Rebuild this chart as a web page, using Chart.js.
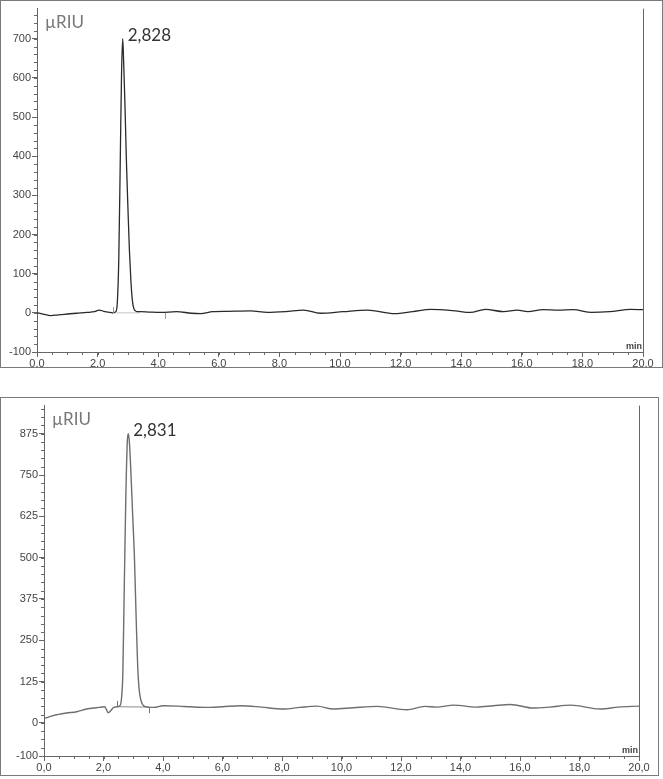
<!DOCTYPE html>
<html>
<head>
<meta charset="utf-8">
<script src="https://cdn.jsdelivr.net/npm/chart.js@4/dist/chart.umd.min.js"></script>
<style>
  body { margin: 0; background: #fff; }
  .frame { position: absolute; left: 0; border: 1px solid #7a7a7a; background: #fff; }
  #topFrame { top: 0; width: 661px; height: 366px; }
  #bottomFrame { top: 397px; width: 657px; height: 377px; }
</style>
</head>
<body>
<div class="frame" id="topFrame"><canvas id="chartTop"></canvas></div>
<div class="frame" id="bottomFrame"><canvas id="chartBottom"></canvas></div>
<script>
const topTime = [0, 0.2, 0.45, 0.7, 1.0, 1.3, 1.65, 1.9, 2.05, 2.2, 2.35, 2.5, 2.6, 2.65, 2.7, 2.75, 2.79, 2.828,
  2.86, 2.9, 2.95, 3.0, 3.05, 3.1, 3.15, 3.2, 3.25, 3.3, 3.42, 3.7, 4.1, 4.6, 5.1, 5.4, 5.8, 6.3, 7.05, 7.6, 8.2,
  8.8, 9.35, 10.1, 10.9, 11.8, 12.4, 13.0, 13.3, 13.8, 14.3, 14.8, 15.4, 15.85, 16.2, 16.7, 17.2, 17.7, 18.3,
  18.9, 19.6, 20.0];
const topSignal = [0, -3, -7, -5, -3, -1, 1, 3, 7, 4, 2, 0, 3, 25, 140, 400, 610, 700,
  640, 540, 390, 270, 160, 80, 30, 10, 5, 3, 3, 2, 1, 3, -1, -2, 3, 4, 5, 1, 3,
  7, -1, 3, 7, -2, 3, 9, 8, 5, 1, 9, 3, 7, 3, 8, 7, 8, 1,
  3, 9, 8];

const bottomTime = [0, 0.3, 0.75, 1.1, 1.43, 1.76, 2.04, 2.1, 2.16, 2.25, 2.33, 2.45, 2.55, 2.6, 2.65, 2.7, 2.75,
  2.8, 2.831, 2.87, 2.92, 2.98, 3.04, 3.1, 3.15, 3.2, 3.27, 3.35, 3.5, 3.7, 4.0, 4.5, 4.9, 5.5, 6.0, 6.6, 7.3,
  8.04, 8.6, 9.17, 9.73, 10.4, 11.2, 12.2, 12.8, 13.2, 13.77, 14.55, 15.1, 15.67, 16.45, 17.0, 17.7, 18.7,
  19.3, 20.0];
const bottomSignal = [13, 22, 30, 34, 42, 46, 49, 40, 31, 38, 46, 49, 52, 70, 150, 420, 680,
  850, 875, 850, 760, 630, 500, 310, 170, 100, 65, 52, 48, 47, 52, 51, 49, 47, 49, 52, 48,
  42, 47, 51, 42, 46, 50, 40, 50, 48, 54, 48, 52, 56, 45, 48, 54, 42,
  48, 51];

// linea base de integracion y marcas de inicio / fin del pico
const topBaseTime = [2.5, 3.4];
const topBaseSignal = [0, 0];
const topMarks = [[2.52, 0, 1], [4.22, 0, -1]];
const bottomBaseTime = [2.44, 3.52];
const bottomBaseSignal = [49, 48];
const bottomMarks = [[2.44, 49, 1], [3.52, 48, -1]];

// ejes
const xTicks = [0, 2, 4, 6, 8, 10, 12, 14, 16, 18, 20];
const yTicksTop = [-100, 0, 100, 200, 300, 400, 500, 600, 700];
const yTicksBottom = [-100, 0, 125, 250, 375, 500, 625, 750, 875];

const toPoints = (xs, ys) => xs.map((x, i) => ({ x: x, y: ys[i] }));

// plugin: marcas menores, borde derecho, marcas de integracion y textos
const extras = {
  id: 'extras',
  afterDraw(chart, args, opts) {
    const { ctx, chartArea } = chart;
    const sx = chart.scales.x, sy = chart.scales.y;
    ctx.save();
    ctx.strokeStyle = '#666';
    ctx.lineWidth = 1;
    // borde derecho del area
    ctx.beginPath();
    ctx.moveTo(Math.round(chartArea.right) + 0.5, chartArea.top);
    ctx.lineTo(Math.round(chartArea.right) + 0.5, chartArea.bottom);
    ctx.stroke();
    // marcas menores eje x
    ctx.beginPath();
    for (let v = 0; v <= 20.001; v += 0.5) {
      const px = Math.round(sx.getPixelForValue(v)) + 0.5;
      ctx.moveTo(px, chartArea.bottom);
      ctx.lineTo(px, chartArea.bottom + 3);
    }
    // marcas menores eje y
    for (let v = sy.min; v <= sy.max; v += opts.minorY) {
      const py = Math.round(sy.getPixelForValue(v)) + 0.5;
      ctx.moveTo(chartArea.left - 3, py);
      ctx.lineTo(chartArea.left, py);
    }
    ctx.stroke();
    // marcas de inicio / fin de integracion
    ctx.strokeStyle = opts.markColor;
    ctx.beginPath();
    opts.marks.forEach(m => {
      const px = Math.round(sx.getPixelForValue(m[0])) + 0.5;
      const py = sy.getPixelForValue(m[1]);
      ctx.moveTo(px, py);
      ctx.lineTo(px, py - m[2] * 6);
    });
    ctx.stroke();
    // textos
    ctx.fillStyle = '#777';
    ctx.font = '17px Lato';
    ctx.textBaseline = 'alphabetic';
    ctx.fillText('µRIU', chartArea.left + 8, chartArea.top + 19);
    ctx.fillStyle = '#333';
    ctx.fillText(opts.peakLabel, sx.getPixelForValue(opts.peak[0]) + 5, sy.getPixelForValue(opts.peak[1]) + 2);
    ctx.fillStyle = '#444';
    ctx.font = 'bold 9px "Liberation Sans"';
    ctx.textAlign = 'right';
    ctx.fillText('min', chartArea.right - 1, chartArea.bottom - 3);
    ctx.restore();
  }
};

function crearCromatograma(id, cfg) {
  new Chart(document.getElementById(id), {
    type: 'line',
    data: {
      datasets: [{
        data: toPoints(cfg.time, cfg.signal),
        borderColor: cfg.color,
        borderWidth: cfg.width,
        pointRadius: 0,
        cubicInterpolationMode: 'monotone',
        fill: false
      }, {
        data: toPoints(cfg.baseTime, cfg.baseSignal),
        borderColor: cfg.baseColor,
        borderWidth: 1,
        pointRadius: 0,
        fill: false
      }]
    },
    options: {
      responsive: true, maintainAspectRatio: false,
      animation: false,
      layout: { padding: { left: 0, right: cfg.padRight, top: 1, bottom: 0 } },
      plugins: {
        legend: { display: false },
        tooltip: { enabled: false },
        extras: {
          minorY: cfg.minorY, marks: cfg.marks, markColor: cfg.markColor,
          peak: cfg.peak, peakLabel: cfg.peakLabel
        }
      },
      scales: {
        x: {
          type: 'linear', min: 0, max: 20,
          afterBuildTicks: s => { s.ticks = xTicks.map(v => ({ value: v })); },
          afterFit: s => { s.height = cfg.xHeight; },
          ticks: {
            autoSkip: false, maxRotation: 0, padding: 0,
            color: '#444', font: { family: '"Liberation Sans"', size: 11 },
            callback: v => v.toFixed(1).replace('.', ',')
          },
          grid: { drawOnChartArea: false, tickLength: 5, color: '#666' },
          border: { display: true, color: '#666' }
        },
        y: {
          min: -100, max: cfg.yMax,
          afterBuildTicks: s => { s.ticks = cfg.yTicks.map(v => ({ value: v })); },
          afterFit: s => { s.width = cfg.yWidth; },
          ticks: {
            autoSkip: false, padding: 1,
            color: '#444', font: { family: '"Liberation Sans"', size: 11 },
            callback: v => String(v)
          },
          grid: { drawOnChartArea: false, tickLength: 5, color: '#666' },
          border: { display: true, color: '#666' }
        }
      }
    },
    plugins: [extras]
  });
}

crearCromatograma('chartTop', {
  time: topTime, signal: topSignal, color: '#2a2a2a', width: 1.3,
  baseTime: topBaseTime, baseSignal: topBaseSignal, baseColor: '#c4c4c4',
  marks: topMarks, markColor: '#999',
  yMax: 777, yTicks: yTicksTop, minorY: 20,
  yWidth: 36, xHeight: 15, padRight: 19,
  peak: [2.828, 700], peakLabel: '2,828'
});

crearCromatograma('chartBottom', {
  time: bottomTime, signal: bottomSignal, color: '#6e6e6e', width: 1.4,
  baseTime: bottomBaseTime, baseSignal: bottomBaseSignal, baseColor: '#8a8a8a',
  marks: bottomMarks, markColor: '#777',
  yMax: 960, yTicks: yTicksBottom, minorY: 25,
  yWidth: 43, xHeight: 19, padRight: 19,
  peak: [2.831, 875], peakLabel: '2,831'
});
</script>
</body>
</html>
